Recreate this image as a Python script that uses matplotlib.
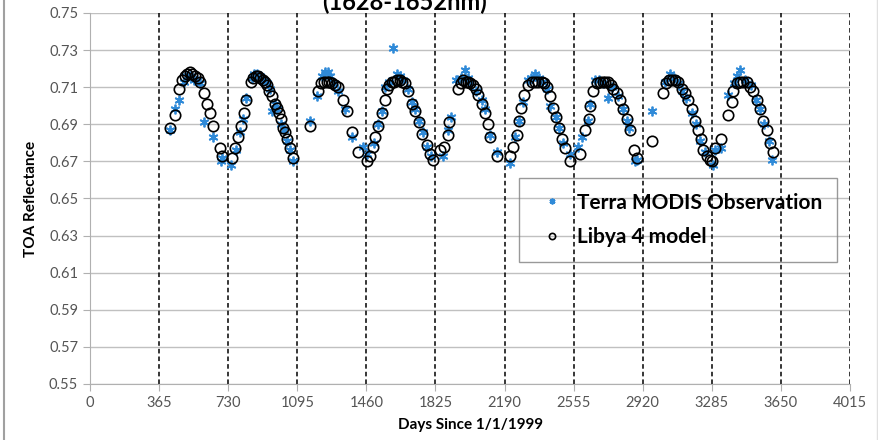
import matplotlib
matplotlib.use("Agg")
import matplotlib.pyplot as plt
import numpy as np

# Libya 4 model (open circles) - days since 1/1/1999
model_days = [423, 449, 470, 488, 502, 515, 528, 541, 555, 568, 580, 602, 618, 634, 650, 687, 697,
              750, 766, 782, 798, 812, 825, 850, 862, 875, 888, 900, 912, 924, 935, 948, 961, 975,
              988, 1000, 1009, 1020, 1031, 1041, 1057, 1072,
              1162, 1206, 1220, 1235, 1250, 1265, 1280, 1295, 1308, 1338, 1356, 1386, 1418,
              1461, 1479, 1495, 1506, 1523, 1541, 1558, 1567, 1580, 1594, 1608, 1622, 1636, 1650,
              1664, 1681, 1699, 1717, 1738, 1752, 1779, 1796, 1814,
              1849, 1872, 1889, 1897, 1942, 1958, 1972, 1985, 1997, 2010, 2023, 2037, 2051, 2069,
              2087, 2101, 2113, 2148,
              2219, 2236, 2254, 2266, 2277, 2294, 2315, 2333, 2350, 2368, 2386, 2400, 2412, 2430,
              2447, 2460, 2478, 2492, 2509, 2536,
              2589, 2615, 2636, 2641, 2659, 2677, 2694, 2708, 2722, 2736, 2750, 2765, 2782, 2800,
              2818, 2835, 2853, 2876, 2888,
              2967, 3028, 3045, 3060, 3075, 3090, 3106, 3126, 3143, 3161, 3179, 3196, 3210, 3228,
              3240, 3258, 3275, 3284,
              3302, 3332, 3372, 3390, 3398, 3416, 3434, 3450, 3469, 3487, 3504, 3522, 3539, 3557,
              3575, 3592, 3610]
model_vals = [0.688, 0.695, 0.709, 0.714, 0.716, 0.717, 0.718, 0.717, 0.716, 0.715, 0.713, 0.707, 0.701, 0.696, 0.689, 0.677, 0.673,
              0.672, 0.677, 0.683, 0.689, 0.696, 0.703, 0.713, 0.715, 0.716, 0.716, 0.715, 0.714, 0.713, 0.711, 0.708, 0.705, 0.701,
              0.699, 0.696, 0.693, 0.688, 0.686, 0.682, 0.677, 0.672,
              0.689, 0.708, 0.712, 0.713, 0.713, 0.713, 0.712, 0.711, 0.710, 0.703, 0.697, 0.686, 0.675,
              0.670, 0.673, 0.678, 0.683, 0.689, 0.696, 0.703, 0.709, 0.711, 0.713, 0.713, 0.714, 0.714, 0.713,
              0.712, 0.708, 0.701, 0.697, 0.691, 0.685, 0.679, 0.674, 0.671,
              0.676, 0.678, 0.684, 0.691, 0.709, 0.712, 0.714, 0.713, 0.713, 0.712, 0.711, 0.709, 0.706, 0.701,
              0.696, 0.690, 0.683, 0.673,
              0.673, 0.678, 0.684, 0.692, 0.699, 0.706, 0.711, 0.713, 0.713, 0.713, 0.713, 0.712, 0.710, 0.705,
              0.699, 0.694, 0.688, 0.682, 0.677, 0.670,
              0.674, 0.687, 0.693, 0.700, 0.708, 0.712, 0.713, 0.713, 0.713, 0.713, 0.711, 0.709, 0.707, 0.703,
              0.698, 0.693, 0.687, 0.676, 0.672,
              0.681, 0.707, 0.712, 0.714, 0.714, 0.714, 0.713, 0.709, 0.707, 0.703, 0.698, 0.692, 0.687, 0.682,
              0.676, 0.673, 0.671, 0.670,
              0.677, 0.682, 0.695, 0.702, 0.708, 0.712, 0.713, 0.713, 0.713, 0.710, 0.708, 0.703, 0.698, 0.692,
              0.687, 0.680, 0.675]

# Terra MODIS observations (blue stars)
obs_days = [423, 449, 470, 495, 515, 530, 548, 565, 580, 602, 650, 690, 697,
            745, 770, 790, 810, 825, 855, 868, 880, 900, 920, 935, 950, 961, 975, 990, 1009, 1025,
            1041, 1057, 1072,
            1162, 1197, 1225, 1241, 1255, 1270, 1290, 1310, 1347, 1386, 1444,
            1465, 1500, 1523, 1541, 1560, 1580, 1601, 1620, 1640, 1655, 1681, 1699, 1717, 1738,
            1760, 1779, 1800,
            1866, 1889, 1905, 1935, 1960, 1981, 1995, 2010, 2040, 2069, 2087, 2113, 2148,
            2219, 2245, 2266, 2285, 2315, 2330, 2350, 2370, 2390, 2412, 2430, 2460, 2478, 2500,
            2536, 2580,
            2597, 2630, 2641, 2670, 2690, 2710, 2738, 2760, 2790, 2818, 2835, 2850, 2879, 2888,
            2967, 3040, 3065, 3085, 3110, 3130, 3150, 3179, 3200, 3225, 3250, 3293,
            3300, 3335, 3372, 3400, 3420, 3434, 3460, 3490, 3520, 3539, 3560, 3585, 3601]
obs_vals = [0.687, 0.698, 0.703, 0.713, 0.716, 0.716, 0.714, 0.714, 0.712, 0.691, 0.683, 0.670, 0.672,
            0.668, 0.676, 0.686, 0.693, 0.704, 0.715, 0.717, 0.717, 0.716, 0.714, 0.712, 0.709, 0.697, 0.701, 0.698, 0.690, 0.687,
            0.681, 0.676, 0.670,
            0.692, 0.705, 0.716, 0.718, 0.718, 0.716, 0.712, 0.708, 0.698, 0.683, 0.678,
            0.674, 0.680, 0.690, 0.697, 0.710, 0.713, 0.731, 0.717, 0.716, 0.714, 0.709, 0.702, 0.698, 0.692,
            0.686, 0.678, 0.673,
            0.673, 0.687, 0.694, 0.714, 0.715, 0.719, 0.715, 0.713, 0.708, 0.703, 0.698, 0.684, 0.675,
            0.669, 0.683, 0.692, 0.702, 0.714, 0.715, 0.717, 0.715, 0.713, 0.709, 0.700, 0.694, 0.688, 0.680,
            0.674, 0.678,
            0.683, 0.692, 0.701, 0.714, 0.714, 0.712, 0.704, 0.710, 0.705, 0.698, 0.692, 0.688, 0.670, 0.671,
            0.697, 0.713, 0.717, 0.715, 0.712, 0.708, 0.704, 0.696, 0.690, 0.681, 0.675, 0.668,
            0.676, 0.677, 0.706, 0.712, 0.716, 0.719, 0.714, 0.711, 0.703, 0.698, 0.690, 0.681, 0.671]

x_ticks = [0, 365, 730, 1095, 1460, 1825, 2190, 2555, 2920, 3285, 3650, 4015]
y_ticks = [0.55, 0.57, 0.59, 0.61, 0.63, 0.65, 0.67, 0.69, 0.71, 0.73, 0.75]

plt.rcParams['font.family'] = ['Lato', 'DejaVu Sans']

fig = plt.figure(figsize=(8.79, 4.40), dpi=100)
ax = fig.add_axes([0.1024, 0.1273, 0.8646, 0.8432])

# year separators
for d in x_ticks[1:]:
    ax.axvline(d, color='black', linestyle=(0, (3, 2)), linewidth=1.1, zorder=1)

ax.plot(obs_days, obs_vals, linestyle='none', marker=(6, 2, 0), markersize=7,
        markeredgewidth=1.3, color='#2f8ad8', label='Terra MODIS Observation', zorder=3)
ax.plot(model_days, model_vals, linestyle='none', marker='o', markersize=7.5,
        markerfacecolor='none', markeredgecolor='black', markeredgewidth=1.2,
        label='Libya 4 model', zorder=4)

ax.set_xlim(0, 4015)
ax.set_ylim(0.55, 0.75)
ax.set_xticks(x_ticks)
ax.set_yticks(y_ticks)
ax.set_yticklabels(['%.2f' % v for v in y_ticks])
ax.yaxis.grid(True, color='#c0c0c0', linewidth=1.0, zorder=0)
ax.set_axisbelow(True)

for s in ['top', 'right']:
    ax.spines[s].set_visible(False)
for s in ['left', 'bottom']:
    ax.spines[s].set_color('#b0b0b0')
ax.tick_params(axis='both', colors='#b0b0b0', labelcolor='#555555', labelsize=10.5, length=5)

ax.set_xlabel('Days Since 1/1/1999', fontsize=11, fontweight='bold', labelpad=6)
ax.set_ylabel('TOA Reflectance', fontsize=11, fontweight='bold', labelpad=8)

leg = ax.legend(loc='upper left', bbox_to_anchor=(0.5645, 0.555),
                prop={'weight': 'bold', 'size': 15}, frameon=True, fancybox=False,
                markerscale=0.6, handlelength=1.8, handletextpad=0.3, labelspacing=0.7,
                borderpad=0.7, borderaxespad=0)
leg.get_frame().set_facecolor('none')
leg.get_frame().set_edgecolor('#808080')
leg.get_frame().set_linewidth(1.0)

# title clipped at top edge of the picture
fig.text(0.46, 0.995, '(1628-1652nm)', ha='center', va='center', fontsize=17, fontweight='bold')

# thin frame edges of the screenshot
fig.add_artist(plt.Line2D([0.004, 0.004], [0, 1], color='#a0a0a0', linewidth=1.5))
fig.add_artist(plt.Line2D([0.998, 0.998], [0, 1], color='#e0e0e0', linewidth=1.0))

fig.savefig('out.png', dpi=100)
